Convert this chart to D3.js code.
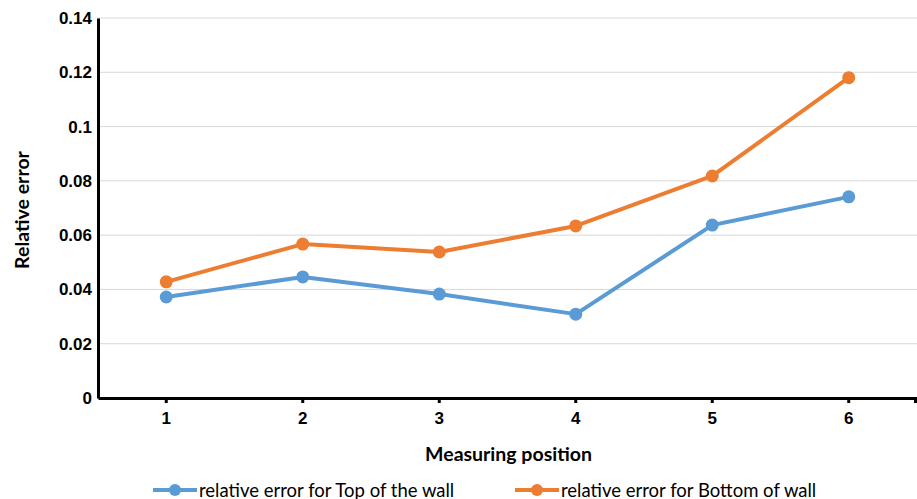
<!DOCTYPE html>
<html>
<head>
<meta charset="utf-8">
<script src="https://cdn.jsdelivr.net/npm/d3@7"></script>
<style>
  html, body { margin: 0; padding: 0; background: #fff; }
  svg { display: block; font-family: Lato, "Open Sans", sans-serif; }
</style>
</head>
<body>
<svg id="chart" width="917" height="499"></svg>
<script>
// Measuring positions along the wall
const positions = ["1", "2", "3", "4", "5", "6"];
// Relative error at each position
const topOfWall = [0.0372, 0.0446, 0.0383, 0.0309, 0.0637, 0.0741];
const bottomOfWall = [0.0428, 0.0567, 0.0538, 0.0634, 0.0818, 0.1180];
const yTicks = [0, 0.02, 0.04, 0.06, 0.08, 0.1, 0.12, 0.14];
const yTickLabels = ["0", "0.02", "0.04", "0.06", "0.08", "0.1", "0.12", "0.14"];

const seriesList = [
  { name: "relative error for Top of the wall", values: topOfWall, color: "#5B9BD5" },
  { name: "relative error for Bottom of wall", values: bottomOfWall, color: "#ED7D31" }
];

const svg = d3.select("#chart");
const m = { left: 98, right: 0, top: 18, bottom: 101 };
const W = 917, H = 499;

const x = d3.scaleBand().domain(positions).range([m.left, W - m.right]);
const y = d3.scaleLinear().domain([0, 0.14]).range([H - m.bottom, m.top]);

// horizontal gridlines
svg.append("g")
  .selectAll("line")
  .data(yTicks.filter(d => d > 0))
  .join("line")
  .attr("x1", m.left).attr("x2", W - m.right)
  .attr("y1", d => y(d)).attr("y2", d => y(d))
  .attr("stroke", "#d9d9d9").attr("stroke-width", 1);

// y axis
const yAxis = svg.append("g")
  .attr("transform", `translate(${m.left},0)`)
  .call(d3.axisLeft(y).tickValues(yTicks).tickFormat((d, i) => yTickLabels[i]).tickSize(0).tickPadding(6));
yAxis.select(".domain").attr("stroke", "#000").attr("stroke-width", 3);
yAxis.selectAll("text").attr("font-size", 17).attr("font-weight", "bold").attr("fill", "#000");

// x axis
const xAxis = svg.append("g")
  .attr("transform", `translate(0,${H - m.bottom})`)
  .call(d3.axisBottom(x).tickSize(5).tickPadding(9).tickSizeOuter(0));
xAxis.select(".domain").attr("stroke", "#000").attr("stroke-width", 3);
xAxis.selectAll(".tick line").attr("stroke", "#000").attr("stroke-width", 3);
xAxis.selectAll("text").attr("font-size", 17).attr("font-weight", "bold").attr("fill", "#000");
// end tick at the right of the axis
xAxis.append("line")
  .attr("x1", W - 1.5).attr("x2", W - 1.5).attr("y1", 0).attr("y2", 5)
  .attr("stroke", "#000").attr("stroke-width", 3);

// axis titles
svg.append("text")
  .attr("x", (m.left + W) / 2 + 1).attr("y", 461)
  .attr("text-anchor", "middle")
  .attr("font-size", 19.5).attr("font-weight", "bold")
  .text("Measuring position");
svg.append("text")
  .attr("transform", `translate(29,${(m.top + H - m.bottom) / 2 + 2}) rotate(-90)`)
  .attr("text-anchor", "middle")
  .attr("font-size", 19.5).attr("font-weight", "bold")
  .text("Relative error");

// lines and markers
const line = d3.line()
  .x((d, i) => x(positions[i]) + x.bandwidth() / 2)
  .y(d => y(d));

seriesList.forEach(s => {
  svg.append("path")
    .datum(s.values)
    .attr("d", line)
    .attr("fill", "none")
    .attr("stroke", s.color)
    .attr("stroke-width", 4)
    .attr("stroke-linejoin", "round");
  svg.append("g")
    .selectAll("circle")
    .data(s.values)
    .join("circle")
    .attr("cx", (d, i) => x(positions[i]) + x.bandwidth() / 2)
    .attr("cy", d => y(d))
    .attr("r", 6.5)
    .attr("fill", s.color);
});

// legend
const legendItems = [
  { x: 153, s: seriesList[0] },
  { x: 515, s: seriesList[1] }
];
legendItems.forEach(({ x: lx, s }) => {
  const g = svg.append("g").attr("transform", `translate(${lx},490)`);
  g.append("line").attr("x1", 0).attr("x2", 44).attr("y1", 0).attr("y2", 0)
    .attr("stroke", s.color).attr("stroke-width", 4);
  g.append("circle").attr("cx", 22).attr("cy", 0).attr("r", 6).attr("fill", s.color);
  g.append("text").attr("x", 46).attr("y", 6.5)
    .attr("font-size", 18.5).attr("fill", "#000")
    .text(s.name);
});
</script>
</body>
</html>
